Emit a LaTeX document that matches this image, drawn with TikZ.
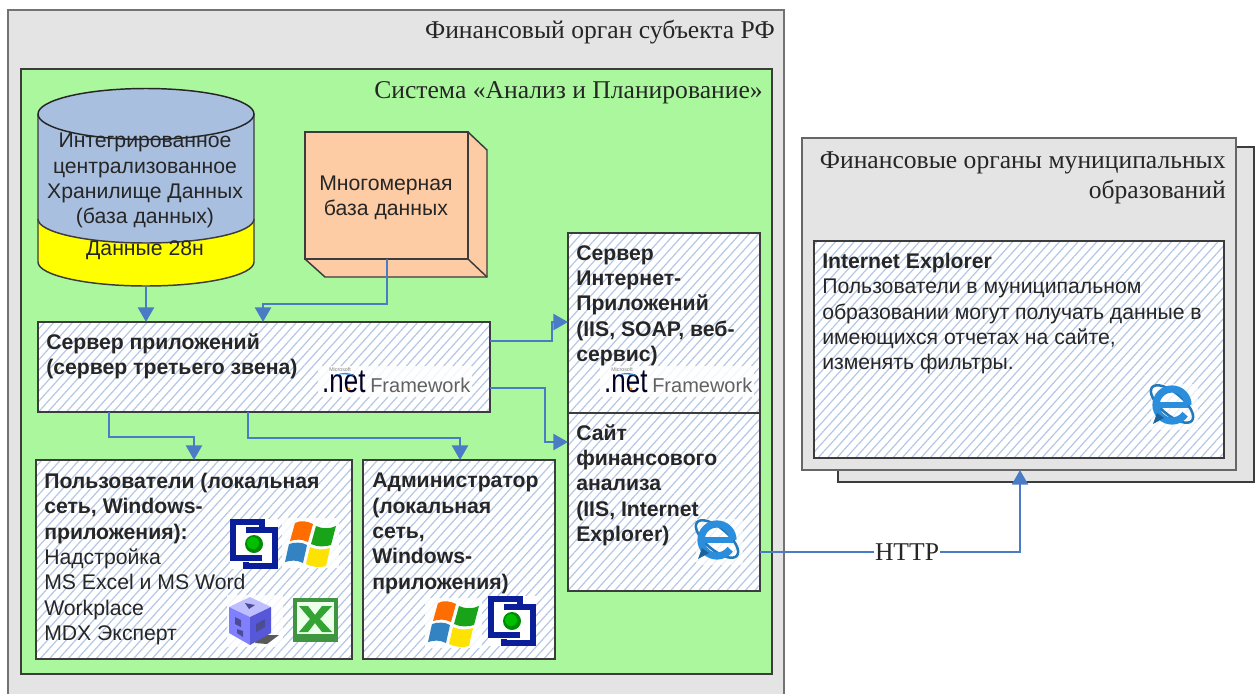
\documentclass[tikz,border=0pt]{standalone}
\usepackage{fontspec}
\setmainfont{Liberation Sans}
\newfontfamily\serifrm{Liberation Serif}
\usetikzlibrary{arrows.meta,patterns.meta,calc}
\definecolor{panelgrey}{HTML}{E4E4E4}
\definecolor{panelgreen}{HTML}{AAF79E}
\definecolor{cylblue}{HTML}{A9BFE0}
\definecolor{cylyellow}{HTML}{FFFF00}
\definecolor{peach}{HTML}{FDCCA4}
\definecolor{linkblue}{HTML}{4A7CC6}
\definecolor{hatchblue}{HTML}{B4C7E6}
\definecolor{edgegrey}{HTML}{3C3C3C}
\definecolor{iconnavy}{HTML}{0A1E9A}
\definecolor{ieblue}{HTML}{2A8EDC}
\definecolor{txtdark}{HTML}{262626}
\tikzset{
  x=0.75pt,y=-0.75pt,
  sized/.style 2 args={minimum width=#1*0.75pt,minimum height=#2*0.75pt,anchor=north west,inner sep=0pt,outer sep=0pt},
  panelbox/.style={draw=edgegrey,line width=1.1pt},
  hatchbox/.style={draw=edgegrey,line width=1.1pt,
    preaction={fill=white},
    pattern={Lines[angle=48,distance=5.2pt,line width=0.9pt]},pattern color=hatchblue},
  body/.style={anchor=north west,inner sep=0pt,align=left,font=\fontsize{15.9pt}{19pt}\selectfont,text=txtdark},
  centred/.style={inner sep=0pt,align=center,font=\fontsize{15.9pt}{19pt}\selectfont,text=txtdark},
  heading/.style={inner sep=0pt,align=right,anchor=north east,font=\serifrm\fontsize{19.2pt}{22.5pt}\selectfont,text=txtdark},
  conn/.style={draw=linkblue,line width=1.9pt,-{Triangle[width=12pt,length=11pt]}},
  % bracket logo, 46 x 48 px
  bracketlogo/.pic={
    \fill[white] (-1,-1) rectangle (47,49);
    \draw[iconnavy,line width=3.8pt,line join=miter]
      (31,7) -- (31,2) -- (2,2) -- (2,38) -- (31,38);
    \draw[iconnavy,line width=3.8pt,line join=miter]
      (15,10) -- (44,10) -- (44,46) -- (15,46) -- (15,42);
    \fill[green!55!black] (23,24) circle (9);
    \fill[green!75!black] (22,23) circle (6);
  },
  % windows flag, 52 x 46 px
  winflag/.pic={
    \fill[white,opacity=.85] (-3,-2) rectangle (54,48);
    \fill[orange!85!red] (10,3) .. controls (16,0) and (22,1) .. (28,4) -- (23,22) .. controls (17,19) and (11,19) .. (5,21) -- cycle;
    \fill[green!60!black!90] (31,6) .. controls (37,9) and (45,9) .. (51,6) -- (46,25) .. controls (40,27) and (32,27) .. (26,24) -- cycle;
    \fill[blue!45!cyan!70!black!80] (4,24) .. controls (10,22) and (17,22) .. (22,25) -- (18,43) .. controls (12,40) and (6,40) .. (0,42) -- cycle;
    \fill[yellow!85!orange] (25,27) .. controls (31,30) and (39,30) .. (45,28) -- (41,46) .. controls (35,48) and (27,47) .. (21,44) -- cycle;
  },
  % IE logo, 46 x 48 px
  ielogo/.pic={
    \fill[white,opacity=.7] (2,4) rectangle (49,50);
    \draw[ieblue!85!black,line width=1.9pt] (23,24) ellipse[x radius=26,y radius=11,rotate=-40];
    \draw[ieblue,line width=5.4pt,line cap=butt] (39,25) arc[start angle=0,end angle=-325,radius=16];
    \fill[ieblue] (7,22) rectangle (39,28);
    \fill[ieblue!70!black] (8,33) -- (15,38) -- (4,44) -- cycle;
  },
  % cube, 50 x 48 px
  cubelogo/.pic={
    \fill[white,opacity=.8] (-2,-2) rectangle (54,50);
    \fill[black!65] (30,38) -- (50,38) -- (38,47) -- (26,46) -- cycle;
    \fill[blue!25!white] (21,0) -- (42,10) -- (21,20) -- (0,10) -- cycle;
    \fill[blue!50!white] (0,10) -- (21,20) -- (21,48) -- (0,36) -- cycle;
    \fill[blue!60!white!85!black] (21,20) -- (42,10) -- (42,36) -- (21,48) -- cycle;
    \fill[blue!40!black!70] (6,20) -- (12,23) -- (12,30) -- (6,27) -- cycle;
    \fill[blue!40!black!70] (27,27) -- (36,22) -- (36,30) -- (27,35) -- cycle;
    \fill[blue!40!black!70] (16,6) -- (26,8) -- (20,12) -- cycle;
    \fill[blue!40!black!70] (8,32) -- (14,34) -- (14,40) -- (8,36) -- cycle;
  },
  % Excel, 45 x 44 px
  excellogo/.pic={
    \fill[green!45!black!75] (0,0) rectangle (45,44);
    \fill[green!8!white] (4,4) rectangle (41,36);
    \fill[green!55!black!80] (6,8) -- (15,8) -- (22,17) -- (29,8) -- (39,8) -- (27,21) -- (39,34) -- (29,34) -- (22,25) -- (15,34) -- (6,34) -- (17,21) -- cycle;
  },
  % .NET Framework, 150 x 26 px
  netlogo/.pic={
    \fill[white,opacity=.85] (-4,-6) rectangle (150,25);
    \node[anchor=base west,inner sep=0pt,text=black!85!blue,xscale=.78,text height=12pt] (#1dot) at (0,20) {\fontsize{25pt}{25pt}\selectfont .net};
    \node[anchor=base west,inner sep=0pt,text=black!62] (#1fw) at (48,20) {\fontsize{15pt}{16pt}\selectfont Framework};
    \node[anchor=base west,inner sep=0pt,text=black!50] (#1ms) at (7,-1) {\fontsize{4pt}{4pt}\selectfont Microsoft};
    \fill[orange] (27,17) circle (1.6);
    \fill[ieblue] (14,3) .. controls (20,0) and (28,0) .. (33,4) .. controls (26,2) and (20,2) .. (14,3) -- cycle;
  },
}
\begin{document}
\begin{tikzpicture}
\clip (0,0) rectangle (1260,693);
\fill[white] (0,0) rectangle (1260,693);

% main panels
\node[sized={776}{700},draw=black!55,fill=panelgrey,line width=1.4pt] (fin) at (8,10) {};
\node[heading] (finT) at (775,20) {Финансовый орган субъекта РФ};
\node[sized={751}{605},panelbox,fill=panelgreen] (sys) at (21,69) {};
\node[heading] (sysT) at (763,81) {Система «Анализ и Планирование»};

% cylinder
\fill[cylyellow] (38,219) -- (38,262) arc[start angle=180,end angle=0,x radius=108,y radius=24] -- (254,219) -- cycle;
\draw[edgegrey,line width=1.1pt] (38,219) -- (38,262) arc[start angle=180,end angle=0,x radius=108,y radius=24] -- (254,219);
\filldraw[fill=cylblue,draw=edgegrey,line width=1.1pt] (38,114) -- (38,219) arc[start angle=180,end angle=0,x radius=108,y radius=24] -- (254,114);
\filldraw[fill=cylblue,draw=black!85,line width=1.1pt] (146,114) ellipse[x radius=108,y radius=25.5];
\coordinate (cylB) at (146,286);
\node[centred,anchor=north] (cylT) at (145,133) {Интегрированное\\централизованное\\Хранилище Данных\\(база данных)};
\node[centred] (cylY) at (145,250) {Данные 28н};

% 3-D box
\filldraw[fill=peach,draw=edgegrey,line width=1.1pt,line join=miter] (468,132) -- (487,150) -- (487,277) -- (325,277) -- (305,259) -- cycle;
\draw[edgegrey,line width=1.1pt] (468,259) -- (487,277);
\node[sized={163}{127},draw=edgegrey,fill=peach,line width=1.1pt] (cube) at (305,132) {};
\node[centred,anchor=center] (cubeT) at (386,198) {Многомерная\\база данных};

% hatched boxes
\node[sized={452}{90},hatchbox] (srv) at (38,322) {};
\node[body] (srvT) at (46,333) {\textbf{Сервер приложений}\\\textbf{(сервер третьего звена)}};
\node[sized={316}{199},hatchbox] (usr) at (36,460) {};
\node[body] (usrT) at (44,473) {\textbf{Пользователи (локальная}\\\textbf{сеть, Windows-}\\\textbf{приложения):}\\Надстройка\\MS Excel и MS Word\\Workplace\\MDX Эксперт};
\node[sized={192}{199},hatchbox] (adm) at (363,460) {};
\node[body] (admT) at (372,473) {\textbf{Администратор}\\\textbf{(локальная}\\\textbf{сеть,}\\\textbf{Windows-}\\\textbf{приложения)}};
\node[sized={192}{180},hatchbox] (web) at (568,233) {};
\node[body] (webT) at (576,245) {\textbf{Сервер}\\\textbf{Интернет-}\\\textbf{Приложений}\\\textbf{(IIS, SOAP, веб-}\\\textbf{сервис)}};
\node[sized={192}{178},hatchbox] (site) at (568,413) {};
\node[body] (siteT) at (576,424) {\textbf{Сайт}\\\textbf{финансового}\\\textbf{анализа}\\\textbf{(IIS, Internet}\\\textbf{Explorer)}};

% municipal panels
\node[sized={416}{335},draw=edgegrey,fill=panelgrey,line width=1pt] (munB) at (838,147) {};
\node[sized={434}{332},draw=black!60,fill=panelgrey,line width=1.4pt] (mun) at (802,138) {};
\node[heading] (munT) at (1226,151) {Финансовые органы муниципальных\\образований};
\node[sized={410}{217},hatchbox] (ie) at (814,241) {};
\node[body] (ieT) at (822,253) {\textbf{Internet Explorer}\\Пользователи в муниципальном\\образовании могут получать данные в\\имеющихся отчетах на сайте,\\изменять фильтры.};

% icons
\pic at (231,520) {bracketlogo};
\pic at (285,520) {winflag};
\pic at (229,597) {cubelogo};
\pic at (293,598) {excellogo};
\pic at (428,600) {winflag};
\pic at (489,597) {bracketlogo};
\pic at (694,515) {ielogo};
\pic at (1149,380) {ielogo};
\pic at (322,372) {netlogo=a};
\pic at (604,372) {netlogo=b};

% connectors
\draw[conn] (cylB) -- (cylB |- srv.north);
\draw[conn] (387,0 |- cube.south) -- (387,304) -- (263,304) -- (263,0 |- srv.north);
\draw[conn] (srv.east |- 0,341) -- (552,341) -- (552,322) -- (web.west |- 0,322);
\draw[conn] (srv.east |- 0,388) -- (545,388) -- (545,442) -- (site.west |- 0,442);
\draw[conn] (109,0 |- srv.south) -- (109,437) -- (194,437) -- (194,0 |- usr.north);
\draw[conn] (248,0 |- srv.south) -- (248,438) -- (460,438) -- (460,0 |- adm.north);
\draw[conn] (site.east |- 0,552) -- (1020,552) -- (1020,0 |- mun.south);
\node[fill=white,inner sep=1pt,font=\serifrm\fontsize{19.2pt}{19.2pt}\selectfont,text=txtdark] (http) at (907,552) {HTTP};
\end{tikzpicture}
\end{document}
